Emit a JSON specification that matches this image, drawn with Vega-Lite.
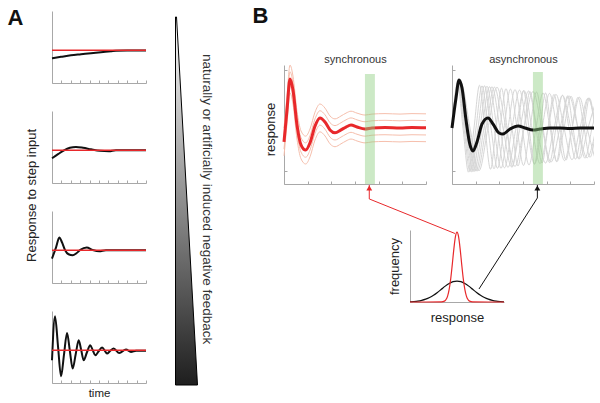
{
  "$schema": "https://vega.github.io/schema/vega-lite/v6.json",
  "padding": {"left": 6, "top": 3, "right": 0, "bottom": 0},
  "config": {
    "view": {"stroke": "transparent"},
    "font": "Liberation Sans",
    "axis": {"grid": false, "labels": false, "domainColor": "#a8a8a8", "tickColor": "#a8a8a8", "domainWidth": 1, "tickWidth": 1, "titleFontWeight": "normal", "titleColor": "#222", "titleFontSize": 13}
  },
  "datasets": {
    "a1": [{"t":0,"r":0.755},{"t":0.96,"r":0.8},{"t":2.02,"r":0.847},{"t":3.09,"r":0.878},{"t":4.15,"r":0.908},{"t":5.21,"r":0.939},{"t":6.28,"r":0.969},{"t":6.81,"r":0.985},{"t":8,"r":0.99},{"t":10,"r":0.99}],
    "a2": [{"t":0,"r":0.755},{"t":0.64,"r":0.88},{"t":1.28,"r":1.0},{"t":1.9,"r":1.076},{"t":2.55,"r":1.1},{"t":3.3,"r":1.076},{"t":4.15,"r":1.03},{"t":5.1,"r":0.985},{"t":6.06,"r":0.97},{"t":6.8,"r":1.0},{"t":7.9,"r":1.0},{"t":10,"r":1.0}],
    "a3": [{"t":0,"r":0.746},{"t":0.43,"r":1.09},{"t":0.78,"r":1.388},{"t":1.06,"r":1.245},{"t":1.38,"r":1.01},{"t":1.76,"r":0.878},{"t":2.2,"r":0.847},{"t":2.6,"r":0.908},{"t":3.01,"r":1.01},{"t":3.69,"r":1.083},{"t":4.33,"r":1.01},{"t":5.03,"r":0.97},{"t":5.74,"r":1.0},{"t":10,"r":1.0}],
    "a4": [{"t":0,"r":0.694},{"t":0.32,"r":2.04},{"t":0.64,"r":1.12},{"t":0.96,"r":0.205},{"t":1.28,"r":0.878},{"t":1.6,"r":1.529},{"t":1.89,"r":1.0},{"t":2.2,"r":0.44},{"t":2.52,"r":0.878},{"t":2.84,"r":1.306},{"t":3.11,"r":1.0},{"t":3.37,"r":0.694},{"t":3.72,"r":0.94},{"t":4.07,"r":1.153},{"t":4.34,"r":1.0},{"t":4.61,"r":0.847},{"t":4.96,"r":0.97},{"t":5.32,"r":1.083},{"t":5.59,"r":1.0},{"t":5.85,"r":0.9},{"t":6.2,"r":0.985},{"t":6.56,"r":1.052},{"t":7.16,"r":0.917},{"t":7.87,"r":1.021},{"t":8.4,"r":0.948},{"t":8.94,"r":0.985},{"t":10,"r":0.985}],
    "step": [{"r": 1}],
    "sync": [{"t":0,"r":-0.29},{"t":0.127,"r":0.375},{"t":0.254,"r":1.02},{"t":0.38,"r":0.79},{"t":0.549,"r":0.06},{"t":0.718,"r":-0.35},{"t":0.917,"r":-0.46},{"t":1.099,"r":-0.31},{"t":1.31,"r":0.04},{"t":1.521,"r":0.21},{"t":1.732,"r":0.125},{"t":1.944,"r":-0.04},{"t":2.155,"r":-0.1},{"t":2.408,"r":-0.04},{"t":2.62,"r":0.02},{"t":2.831,"r":0.06},{"t":3.084,"r":0.02},{"t":3.423,"r":-0.02},{"t":3.718,"r":0},{"t":4.268,"r":0.01},{"t":4.901,"r":0},{"t":5.408,"r":0.01},{"t":6,"r":0.005}],
    "syncLight": [
      {"k":1,"t":0,"r":0},{"k":1,"t":0.127,"r":0.665},{"k":1,"t":0.254,"r":1.31},{"k":1,"t":0.38,"r":1.08},{"k":1,"t":0.549,"r":0.35},{"k":1,"t":0.718,"r":-0.06},{"k":1,"t":0.917,"r":-0.17},{"k":1,"t":1.099,"r":-0.02},{"k":1,"t":1.31,"r":0.33},{"k":1,"t":1.521,"r":0.5},{"k":1,"t":1.732,"r":0.415},{"k":1,"t":1.944,"r":0.25},{"k":1,"t":2.155,"r":0.19},{"k":1,"t":2.408,"r":0.25},{"k":1,"t":2.62,"r":0.31},{"k":1,"t":2.831,"r":0.35},{"k":1,"t":3.084,"r":0.31},{"k":1,"t":3.423,"r":0.27},{"k":1,"t":3.718,"r":0.29},{"k":1,"t":4.268,"r":0.3},{"k":1,"t":4.901,"r":0.29},{"k":1,"t":5.408,"r":0.3},{"k":1,"t":6,"r":0.295},
      {"k":2,"t":0,"r":-0.14},{"k":2,"t":0.127,"r":0.525},{"k":2,"t":0.254,"r":1.17},{"k":2,"t":0.38,"r":0.94},{"k":2,"t":0.549,"r":0.21},{"k":2,"t":0.718,"r":-0.2},{"k":2,"t":0.917,"r":-0.31},{"k":2,"t":1.099,"r":-0.16},{"k":2,"t":1.31,"r":0.19},{"k":2,"t":1.521,"r":0.36},{"k":2,"t":1.732,"r":0.275},{"k":2,"t":1.944,"r":0.11},{"k":2,"t":2.155,"r":0.05},{"k":2,"t":2.408,"r":0.11},{"k":2,"t":2.62,"r":0.17},{"k":2,"t":2.831,"r":0.21},{"k":2,"t":3.084,"r":0.17},{"k":2,"t":3.423,"r":0.13},{"k":2,"t":3.718,"r":0.15},{"k":2,"t":4.268,"r":0.16},{"k":2,"t":4.901,"r":0.15},{"k":2,"t":5.408,"r":0.16},{"k":2,"t":6,"r":0.155},
      {"k":3,"t":0,"r":-0.44},{"k":3,"t":0.127,"r":0.225},{"k":3,"t":0.254,"r":0.87},{"k":3,"t":0.38,"r":0.64},{"k":3,"t":0.549,"r":-0.09},{"k":3,"t":0.718,"r":-0.5},{"k":3,"t":0.917,"r":-0.61},{"k":3,"t":1.099,"r":-0.46},{"k":3,"t":1.31,"r":-0.11},{"k":3,"t":1.521,"r":0.06},{"k":3,"t":1.732,"r":-0.025},{"k":3,"t":1.944,"r":-0.19},{"k":3,"t":2.155,"r":-0.25},{"k":3,"t":2.408,"r":-0.19},{"k":3,"t":2.62,"r":-0.13},{"k":3,"t":2.831,"r":-0.09},{"k":3,"t":3.084,"r":-0.13},{"k":3,"t":3.423,"r":-0.17},{"k":3,"t":3.718,"r":-0.15},{"k":3,"t":4.268,"r":-0.14},{"k":3,"t":4.901,"r":-0.15},{"k":3,"t":5.408,"r":-0.14},{"k":3,"t":6,"r":-0.145},
      {"k":4,"t":0,"r":-0.58},{"k":4,"t":0.127,"r":0.085},{"k":4,"t":0.254,"r":0.73},{"k":4,"t":0.38,"r":0.5},{"k":4,"t":0.549,"r":-0.23},{"k":4,"t":0.718,"r":-0.64},{"k":4,"t":0.917,"r":-0.75},{"k":4,"t":1.099,"r":-0.6},{"k":4,"t":1.31,"r":-0.25},{"k":4,"t":1.521,"r":-0.08},{"k":4,"t":1.732,"r":-0.165},{"k":4,"t":1.944,"r":-0.33},{"k":4,"t":2.155,"r":-0.39},{"k":4,"t":2.408,"r":-0.33},{"k":4,"t":2.62,"r":-0.27},{"k":4,"t":2.831,"r":-0.23},{"k":4,"t":3.084,"r":-0.27},{"k":4,"t":3.423,"r":-0.31},{"k":4,"t":3.718,"r":-0.29},{"k":4,"t":4.268,"r":-0.28},{"k":4,"t":4.901,"r":-0.29},{"k":4,"t":5.408,"r":-0.28},{"k":4,"t":6,"r":-0.285}
    ],
    "async": [{"t":0,"r":0},{"t":0.169,"r":0.625},{"t":0.296,"r":1.0},{"t":0.423,"r":0.833},{"t":0.592,"r":0.167},{"t":0.761,"r":-0.354},{"t":0.887,"r":-0.479},{"t":1.056,"r":-0.292},{"t":1.268,"r":0.083},{"t":1.521,"r":0.208},{"t":1.732,"r":0.083},{"t":1.986,"r":-0.104},{"t":2.155,"r":-0.125},{"t":2.451,"r":-0.021},{"t":2.789,"r":0.042},{"t":3.084,"r":0},{"t":3.423,"r":-0.042},{"t":3.718,"r":-0.021},{"t":4.141,"r":0},{"t":4.563,"r":0},{"t":4.986,"r":-0.01},{"t":5.408,"r":0},{"t":6,"r":0}],
    "gray": [
      {"k":1,"t":0,"r":0},{"k":1,"t":0.232,"r":0.94},{"k":1,"t":0.465,"r":0},{"k":1,"t":0.697,"r":-0.92},{"k":1,"t":0.93,"r":0},{"k":1,"t":1.162,"r":0.89},{"k":1,"t":1.394,"r":0},{"k":1,"t":1.627,"r":-0.86},{"k":1,"t":1.859,"r":0},{"k":1,"t":2.092,"r":0.83},{"k":1,"t":2.324,"r":0},{"k":1,"t":2.556,"r":-0.81},{"k":1,"t":2.789,"r":0},{"k":1,"t":3.021,"r":0.78},{"k":1,"t":3.254,"r":0},{"k":1,"t":3.486,"r":-0.75},{"k":1,"t":3.718,"r":0},{"k":1,"t":3.951,"r":0.73},{"k":1,"t":4.183,"r":0},{"k":1,"t":4.416,"r":-0.7},{"k":1,"t":4.648,"r":0},{"k":1,"t":4.88,"r":0.67},{"k":1,"t":5.113,"r":0},{"k":1,"t":5.345,"r":-0.64},{"k":1,"t":5.578,"r":0},{"k":1,"t":5.81,"r":0.62},{"k":1,"t":6.042,"r":0},
      {"k":2,"t":0,"r":0},{"k":2,"t":0.254,"r":0.94},{"k":2,"t":0.507,"r":0},{"k":2,"t":0.761,"r":-0.91},{"k":2,"t":1.014,"r":0},{"k":2,"t":1.268,"r":0.88},{"k":2,"t":1.521,"r":0},{"k":2,"t":1.775,"r":-0.85},{"k":2,"t":2.028,"r":0},{"k":2,"t":2.282,"r":0.82},{"k":2,"t":2.535,"r":0},{"k":2,"t":2.789,"r":-0.79},{"k":2,"t":3.042,"r":0},{"k":2,"t":3.296,"r":0.76},{"k":2,"t":3.549,"r":0},{"k":2,"t":3.803,"r":-0.73},{"k":2,"t":4.056,"r":0},{"k":2,"t":4.31,"r":0.7},{"k":2,"t":4.563,"r":0},{"k":2,"t":4.817,"r":-0.67},{"k":2,"t":5.07,"r":0},{"k":2,"t":5.324,"r":0.64},{"k":2,"t":5.577,"r":0},{"k":2,"t":5.831,"r":-0.61},{"k":2,"t":6.084,"r":0},
      {"k":3,"t":0,"r":0},{"k":3,"t":0.275,"r":0.94},{"k":3,"t":0.549,"r":0},{"k":3,"t":0.824,"r":-0.91},{"k":3,"t":1.098,"r":0},{"k":3,"t":1.373,"r":0.88},{"k":3,"t":1.648,"r":0},{"k":3,"t":1.922,"r":-0.84},{"k":3,"t":2.197,"r":0},{"k":3,"t":2.471,"r":0.81},{"k":3,"t":2.746,"r":0},{"k":3,"t":3.021,"r":-0.78},{"k":3,"t":3.295,"r":0},{"k":3,"t":3.57,"r":0.75},{"k":3,"t":3.844,"r":0},{"k":3,"t":4.119,"r":-0.72},{"k":3,"t":4.394,"r":0},{"k":3,"t":4.668,"r":0.68},{"k":3,"t":4.943,"r":0},{"k":3,"t":5.217,"r":-0.65},{"k":3,"t":5.492,"r":0},{"k":3,"t":5.767,"r":0.62},{"k":3,"t":6.041,"r":0},
      {"k":4,"t":0,"r":0},{"k":4,"t":0.296,"r":0.94},{"k":4,"t":0.592,"r":0},{"k":4,"t":0.887,"r":-0.91},{"k":4,"t":1.183,"r":0},{"k":4,"t":1.479,"r":0.87},{"k":4,"t":1.775,"r":0},{"k":4,"t":2.071,"r":-0.84},{"k":4,"t":2.366,"r":0},{"k":4,"t":2.662,"r":0.8},{"k":4,"t":2.958,"r":0},{"k":4,"t":3.254,"r":-0.77},{"k":4,"t":3.55,"r":0},{"k":4,"t":3.845,"r":0.73},{"k":4,"t":4.141,"r":0},{"k":4,"t":4.437,"r":-0.7},{"k":4,"t":4.733,"r":0},{"k":4,"t":5.029,"r":0.66},{"k":4,"t":5.324,"r":0},{"k":4,"t":5.62,"r":-0.63},{"k":4,"t":5.916,"r":0},{"k":4,"t":6.212,"r":0.59},
      {"k":5,"t":0,"r":0},{"k":5,"t":0.317,"r":0.94},{"k":5,"t":0.634,"r":0},{"k":5,"t":0.951,"r":-0.9},{"k":5,"t":1.268,"r":0},{"k":5,"t":1.585,"r":0.86},{"k":5,"t":1.901,"r":0},{"k":5,"t":2.218,"r":-0.83},{"k":5,"t":2.535,"r":0},{"k":5,"t":2.852,"r":0.79},{"k":5,"t":3.169,"r":0},{"k":5,"t":3.486,"r":-0.75},{"k":5,"t":3.803,"r":0},{"k":5,"t":4.12,"r":0.72},{"k":5,"t":4.437,"r":0},{"k":5,"t":4.754,"r":-0.68},{"k":5,"t":5.07,"r":0},{"k":5,"t":5.387,"r":0.64},{"k":5,"t":5.704,"r":0},{"k":5,"t":6.021,"r":-0.6},
      {"k":6,"t":0,"r":0},{"k":6,"t":0.338,"r":0.94},{"k":6,"t":0.676,"r":0},{"k":6,"t":1.014,"r":-0.9},{"k":6,"t":1.352,"r":0},{"k":6,"t":1.69,"r":0.86},{"k":6,"t":2.028,"r":0},{"k":6,"t":2.366,"r":-0.82},{"k":6,"t":2.704,"r":0},{"k":6,"t":3.042,"r":0.78},{"k":6,"t":3.38,"r":0},{"k":6,"t":3.718,"r":-0.74},{"k":6,"t":4.056,"r":0},{"k":6,"t":4.394,"r":0.7},{"k":6,"t":4.732,"r":0},{"k":6,"t":5.07,"r":-0.66},{"k":6,"t":5.408,"r":0},{"k":6,"t":5.746,"r":0.62},{"k":6,"t":6.084,"r":0},
      {"k":7,"t":0,"r":0},{"k":7,"t":0.359,"r":0.94},{"k":7,"t":0.718,"r":0},{"k":7,"t":1.078,"r":-0.89},{"k":7,"t":1.437,"r":0},{"k":7,"t":1.796,"r":0.85},{"k":7,"t":2.155,"r":0},{"k":7,"t":2.514,"r":-0.81},{"k":7,"t":2.874,"r":0},{"k":7,"t":3.233,"r":0.77},{"k":7,"t":3.592,"r":0},{"k":7,"t":3.951,"r":-0.73},{"k":7,"t":4.31,"r":0},{"k":7,"t":4.67,"r":0.68},{"k":7,"t":5.029,"r":0},{"k":7,"t":5.388,"r":-0.64},{"k":7,"t":5.747,"r":0},{"k":7,"t":6.106,"r":0.6},
      {"k":8,"t":0,"r":0},{"k":8,"t":0.38,"r":0.94},{"k":8,"t":0.761,"r":0},{"k":8,"t":1.141,"r":-0.89},{"k":8,"t":1.521,"r":0},{"k":8,"t":1.902,"r":0.85},{"k":8,"t":2.282,"r":0},{"k":8,"t":2.662,"r":-0.8},{"k":8,"t":3.042,"r":0},{"k":8,"t":3.423,"r":0.76},{"k":8,"t":3.803,"r":0},{"k":8,"t":4.183,"r":-0.71},{"k":8,"t":4.564,"r":0},{"k":8,"t":4.944,"r":0.67},{"k":8,"t":5.324,"r":0},{"k":8,"t":5.705,"r":-0.62},{"k":8,"t":6.085,"r":0}
    ],
    "distK": [{"x":-3,"f":0.0033},{"x":-2.75,"f":0.0068},{"x":-2.5,"f":0.013},{"x":-2.25,"f":0.024},{"x":-2,"f":0.041},{"x":-1.75,"f":0.065},{"x":-1.5,"f":0.097},{"x":-1.25,"f":0.137},{"x":-1,"f":0.182},{"x":-0.75,"f":0.227},{"x":-0.5,"f":0.265},{"x":-0.25,"f":0.291},{"x":0,"f":0.3},{"x":0.25,"f":0.291},{"x":0.5,"f":0.265},{"x":0.75,"f":0.227},{"x":1,"f":0.182},{"x":1.25,"f":0.137},{"x":1.5,"f":0.097},{"x":1.75,"f":0.065},{"x":2,"f":0.041},{"x":2.25,"f":0.024},{"x":2.5,"f":0.013},{"x":2.75,"f":0.0068},{"x":3,"f":0.0033}],
    "distR": [{"x":-3,"f":0},{"x":-1,"f":0.001},{"x":-0.8,"f":0.012},{"x":-0.7,"f":0.035},{"x":-0.6,"f":0.085},{"x":-0.5,"f":0.18},{"x":-0.4,"f":0.334},{"x":-0.3,"f":0.539},{"x":-0.2,"f":0.76},{"x":-0.1,"f":0.934},{"x":0,"f":1},{"x":0.1,"f":0.934},{"x":0.2,"f":0.76},{"x":0.3,"f":0.539},{"x":0.4,"f":0.334},{"x":0.5,"f":0.18},{"x":0.6,"f":0.085},{"x":0.7,"f":0.035},{"x":0.8,"f":0.012},{"x":1,"f":0.001},{"x":3,"f":0}],
    "arrows": [{"a":"red","i":0,"x":-5.6,"f":1.674},{"a":"red","i":1,"x":-5.6,"f":1.474},{"a":"red","i":2,"x":-0.13,"f":0.98},{"a":"black","i":0,"x":5.13,"f":1.674},{"a":"black","i":1,"x":5.13,"f":1.488},{"a":"black","i":2,"x":1.404,"f":0.186}],
    "heads": [{"a":"red","x":-5.6,"f":1.63},{"a":"black","x":5.13,"f":1.63}]
  },
  "spacing": 21.5,
  "hconcat": [
    {
      "bounds": "flush",
      "spacing": 28,
      "vconcat": [
        {
          "width": 94, "height": 72,
          "resolve": {"axis": {"y": "independent"}},
          "layer": [
            {"data": {"name": "a1"}, "mark": {"type": "line", "interpolate": "monotone", "color": "#111", "strokeWidth": 2},
             "encoding": {"x": {"field": "t", "type": "quantitative", "scale": {"domain": [0, 10], "nice": false}, "axis": {"title": null, "values": [0,1,2,3,4,5,6,7,8,9,10], "tickSize": -3}},
                          "y": {"field": "r", "type": "quantitative", "scale": {"domain": [0, 2.2], "nice": false, "zero": false}, "axis": {"title": null, "ticks": false}}}},
            {"data": {"name": "step"}, "mark": {"type": "rule", "color": "#e8282b", "strokeWidth": 1.5},
             "encoding": {"y": {"field": "r", "type": "quantitative", "axis": {"orient": "right", "domain": false, "ticks": false, "title": "A", "titleFontSize": 22, "titleFontWeight": "bold", "titleColor": "#111", "titleAngle": 0, "titleAlign": "left", "titleBaseline": "alphabetic", "titleX": -139, "titleY": 13}}}}
          ]
        },
        {
          "width": 94, "height": 72,
          "layer": [
            {"data": {"name": "a2"}, "mark": {"type": "line", "interpolate": "monotone", "color": "#111", "strokeWidth": 2},
             "encoding": {"x": {"field": "t", "type": "quantitative", "scale": {"domain": [0, 10], "nice": false}, "axis": {"title": null, "values": [0,1,2,3,4,5,6,7,8,9,10], "tickSize": -3}},
                          "y": {"field": "r", "type": "quantitative", "scale": {"domain": [0, 2.2], "nice": false, "zero": false}, "axis": {"title": "Response to step input", "ticks": false, "titleX": -16.7, "titleY": 84, "titleAngle": -90, "titleAlign": "center", "titleBaseline": "alphabetic"}}}},
            {"data": {"name": "step"}, "mark": {"type": "rule", "color": "#e8282b", "strokeWidth": 1.5}, "encoding": {"y": {"field": "r", "type": "quantitative"}}}
          ]
        },
        {
          "width": 94, "height": 72,
          "layer": [
            {"data": {"name": "a3"}, "mark": {"type": "line", "interpolate": "monotone", "color": "#111", "strokeWidth": 2},
             "encoding": {"x": {"field": "t", "type": "quantitative", "scale": {"domain": [0, 10], "nice": false}, "axis": {"title": null, "values": [0,1,2,3,4,5,6,7,8,9,10], "tickSize": -3}},
                          "y": {"field": "r", "type": "quantitative", "scale": {"domain": [0, 2.2], "nice": false, "zero": false}, "axis": {"title": null, "ticks": false}}}},
            {"data": {"name": "step"}, "mark": {"type": "rule", "color": "#e8282b", "strokeWidth": 1.5}, "encoding": {"y": {"field": "r", "type": "quantitative"}}}
          ]
        },
        {
          "width": 94, "height": 72,
          "layer": [
            {"data": {"name": "a4"}, "mark": {"type": "line", "interpolate": "monotone", "color": "#111", "strokeWidth": 2},
             "encoding": {"x": {"field": "t", "type": "quantitative", "scale": {"domain": [0, 10], "nice": false}, "axis": {"title": "time", "titleFontSize": 11.5, "titleY": 13, "titleBaseline": "alphabetic", "values": [0,1,2,3,4,5,6,7,8,9,10], "tickSize": -3}},
                          "y": {"field": "r", "type": "quantitative", "scale": {"domain": [0, 2.2], "nice": false, "zero": false}, "axis": {"title": null, "ticks": false}}}},
            {"data": {"name": "step"}, "mark": {"type": "rule", "color": "#e8282b", "strokeWidth": 1.5}, "encoding": {"y": {"field": "r", "type": "quantitative"}}}
          ]
        }
      ]
    },
    {
      "width": 53, "height": 374,
      "layer": [
        {"data": {"values": [{"lvl": 0, "a": 0, "b": 0.415}, {"lvl": 0.984, "a": 0, "b": 0.019}]},
         "mark": {"type": "area", "orient": "horizontal", "stroke": "#000", "strokeWidth": 1,
                  "fill": {"gradient": "linear", "x1": 0, "y1": 0, "x2": 0, "y2": 1, "stops": [{"offset": 0, "color": "#ffffff"}, {"offset": 1, "color": "#1e1e1e"}]}},
         "encoding": {"y": {"field": "lvl", "type": "quantitative", "scale": {"domain": [0, 1], "nice": false}, "axis": null},
                      "x": {"field": "a", "type": "quantitative", "scale": {"domain": [0, 1], "nice": false}, "axis": null},
                      "x2": {"field": "b"}}},
        {"data": {"values": [{"lvl": 0.497, "a": 0.585, "label": "naturally or artificially induced negative feedback"}]},
         "mark": {"type": "text", "angle": 90, "fontSize": 13.5, "color": "#333", "align": "center", "baseline": "middle"},
         "encoding": {"y": {"field": "lvl", "type": "quantitative"}, "x": {"field": "a", "type": "quantitative"}, "text": {"field": "label"}}}
      ]
    },
    {
      "spacing": -3,
      "vconcat": [
        {
          "width": 1, "height": 41.5,
          "data": {"values": [{"z": 0}]},
          "mark": {"type": "point", "opacity": 0},
          "encoding": {"y": {"field": "z", "type": "quantitative", "scale": {"domain": [0, 1]}, "axis": {"orient": "left", "domain": false, "ticks": false, "title": "B", "titleFontSize": 22, "titleFontWeight": "bold", "titleColor": "#111", "titleAngle": 0, "titleAlign": "left", "titleBaseline": "alphabetic", "titleX": -32, "titleY": 11.3}}}
        },
        {
          "bounds": "flush",
          "spacing": 26,
          "hconcat": [
            {
              "width": 142, "height": 119,
              "resolve": {"axis": {"x": "independent"}},
              "layer": [
                {"data": {"name": "syncLight"}, "mark": {"type": "line", "interpolate": "monotone", "color": "#f6bfad", "strokeWidth": 1},
                 "encoding": {"x": {"field": "t", "type": "quantitative", "scale": {"domain": [0, 6], "nice": false, "zero": false}, "axis": {"title": null, "values": [0,1,2,3,4,5,6], "tickSize": -3}},
                              "y": {"field": "r", "type": "quantitative", "scale": {"domain": [-1.1667, 1.3125], "nice": false, "zero": false}, "axis": {"title": "response", "values": [-0.9,-0.6,-0.3,0,0.3,0.6,0.9,1.2], "tickSize": -3, "titleX": -9.5, "titleY": 64, "titleAngle": -90, "titleAlign": "center", "titleBaseline": "alphabetic"}},
                              "detail": {"field": "k", "type": "nominal"}}},
                {"data": {"name": "sync"}, "mark": {"type": "line", "interpolate": "monotone", "color": "#e8282b", "strokeWidth": 3},
                 "encoding": {"x": {"field": "t", "type": "quantitative", "axis": null}, "y": {"field": "r", "type": "quantitative"}}},
                {"data": {"values": [{"t1": 3.42, "t2": 3.84, "r1": 1.125, "r2": -1.1667}]}, "mark": {"type": "rect", "color": "#8fcf80", "opacity": 0.45},
                 "encoding": {"x": {"field": "t1", "type": "quantitative", "axis": {"orient": "top", "domain": false, "ticks": false, "title": "synchronous", "titleFontSize": 11, "titleColor": "#333333", "titleY": -2.5, "titleBaseline": "alphabetic"}}, "x2": {"field": "t2"},
                              "y": {"field": "r1", "type": "quantitative"}, "y2": {"field": "r2"}}}
              ]
            },
            {
              "width": 142, "height": 119,
              "resolve": {"axis": {"x": "independent"}},
              "layer": [
                {"data": {"name": "gray"}, "mark": {"type": "line", "interpolate": "monotone", "color": "#d6d6d6", "strokeWidth": 1, "clip": true},
                 "encoding": {"x": {"field": "t", "type": "quantitative", "scale": {"domain": [0, 6], "nice": false, "zero": false}, "axis": {"title": null, "values": [0,1,2,3,4,5,6], "tickSize": -3}},
                              "y": {"field": "r", "type": "quantitative", "scale": {"domain": [-1.1667, 1.3125], "nice": false, "zero": false}, "axis": {"title": null, "values": [-0.9,-0.6,-0.3,0,0.3,0.6,0.9,1.2], "tickSize": -3}},
                              "detail": {"field": "k", "type": "nominal"}}},
                {"data": {"name": "async"}, "mark": {"type": "line", "interpolate": "monotone", "color": "#111", "strokeWidth": 3},
                 "encoding": {"x": {"field": "t", "type": "quantitative", "axis": null}, "y": {"field": "r", "type": "quantitative"}}},
                {"data": {"values": [{"t1": 3.42, "t2": 3.84, "r1": 1.167, "r2": -1.1667}]}, "mark": {"type": "rect", "color": "#8fcf80", "opacity": 0.45},
                 "encoding": {"x": {"field": "t1", "type": "quantitative", "axis": {"orient": "top", "domain": false, "ticks": false, "title": "asynchronous", "titleFontSize": 11, "titleColor": "#333333", "titleY": -2.5, "titleBaseline": "alphabetic"}}, "x2": {"field": "t2"},
                              "y": {"field": "r1", "type": "quantitative"}, "y2": {"field": "r2"}}}
              ]
            }
          ]
        },
        {
          "bounds": "flush",
          "spacing": 0,
          "hconcat": [
            {"width": 126, "height": 1, "data": {"values": [{"z": 0}]}, "mark": {"type": "point", "opacity": 0}},
            {
              "width": 94, "height": 72,
              "layer": [
                {"data": {"name": "distK"}, "mark": {"type": "line", "interpolate": "monotone", "color": "#111", "strokeWidth": 1.2},
                 "encoding": {"x": {"field": "x", "type": "quantitative", "scale": {"domain": [-3, 3], "nice": false, "zero": false}, "axis": {"title": "response", "ticks": false, "titleY": 19, "titleBaseline": "alphabetic"}},
                              "y": {"field": "f", "type": "quantitative", "scale": {"domain": [0, 1.03], "nice": false, "zero": false}, "axis": {"title": "frequency", "ticks": false, "titleX": -12, "titleY": 36, "titleAngle": -90, "titleAlign": "center", "titleBaseline": "alphabetic"}}}},
                {"data": {"name": "distR"}, "mark": {"type": "line", "interpolate": "monotone", "color": "#e8282b", "strokeWidth": 1.2},
                 "encoding": {"x": {"field": "x", "type": "quantitative"}, "y": {"field": "f", "type": "quantitative"}}},
                {"data": {"name": "arrows"}, "mark": {"type": "line", "strokeWidth": 1},
                 "encoding": {"x": {"field": "x", "type": "quantitative"}, "y": {"field": "f", "type": "quantitative"}, "order": {"field": "i"},
                              "color": {"field": "a", "type": "nominal", "scale": {"domain": ["red", "black"], "range": ["#e8282b", "#111111"]}, "legend": null}}},
                {"data": {"name": "heads"}, "mark": {"type": "point", "shape": "triangle-up", "filled": true, "size": 35, "opacity": 1},
                 "encoding": {"x": {"field": "x", "type": "quantitative"}, "y": {"field": "f", "type": "quantitative"},
                              "color": {"field": "a", "type": "nominal", "scale": {"domain": ["red", "black"], "range": ["#e8282b", "#111111"]}, "legend": null}}}
              ]
            }
          ]
        }
      ]
    }
  ]
}
